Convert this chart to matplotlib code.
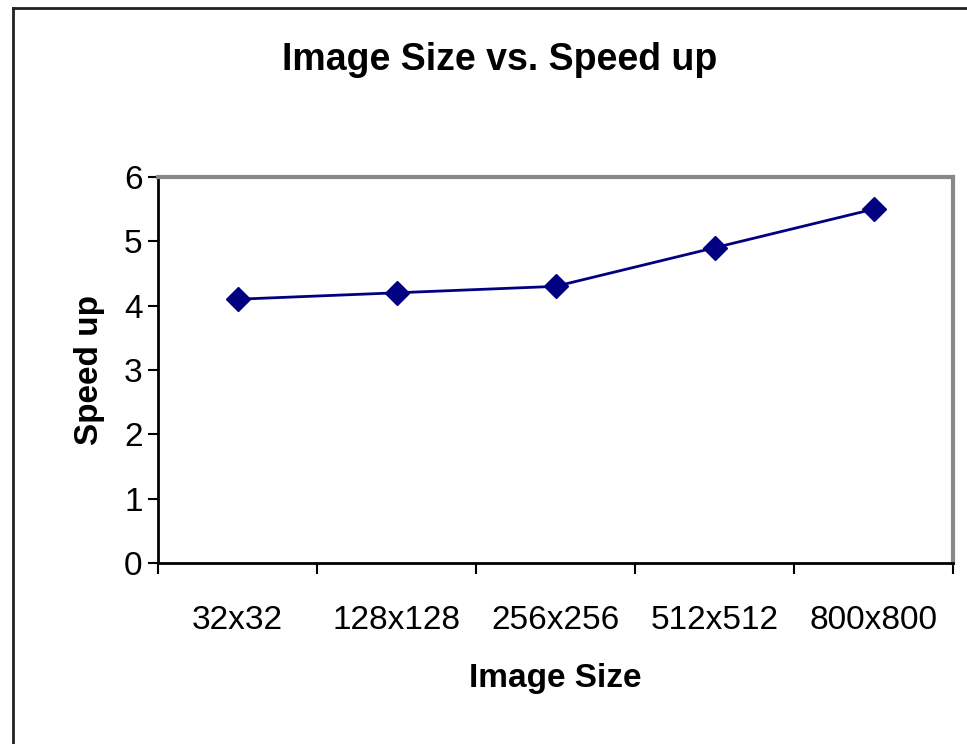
import matplotlib
matplotlib.use('Agg')
import matplotlib.pyplot as plt
import numpy as np

sizes = ['32x32', '128x128', '256x256', '512x512', '800x800']
speedup = [4.1, 4.2, 4.3, 4.9, 5.5]

plt.rcParams['font.family'] = ['Liberation Sans', 'DejaVu Sans']

fig = plt.figure(figsize=(9.67, 7.44), dpi=100)
W, H = 967, 744

# outer chart frame (left and top visible)
fig.add_artist(plt.Line2D([13/W, 13/W], [0, 1 - 8/H], color='#222222', lw=2))
fig.add_artist(plt.Line2D([13/W, 1], [1 - 8/H, 1 - 8/H], color='#222222', lw=2))

left, right, top, bottom = 158, 953, 177, 563
ax = fig.add_axes([left/W, 1 - bottom/H, (right-left)/W, (bottom-top)/H])

x = np.arange(len(sizes))
ax.plot(x, speedup, color='#000080', lw=2, marker='D', markersize=12,
        markerfacecolor='#000080', markeredgecolor='#000080')

ax.set_xlim(-0.5, len(sizes) - 0.5)
ax.set_ylim(0, 6)
ax.set_yticks(range(0, 7))
ax.set_xticks(x)
ax.set_xticklabels(sizes)
ax.set_xticks(np.arange(-0.5, len(sizes)), minor=True)
ax.tick_params(axis='x', which='major', length=0, pad=30, labelsize=24)
ax.tick_params(axis='x', which='minor', length=8, width=1.5, direction='out')
ax.tick_params(axis='y', length=7, width=1.5, direction='out', pad=4, labelsize=24)

for s in ['top', 'right']:
    ax.spines[s].set_color('#888888')
    ax.spines[s].set_linewidth(3)
for s in ['left', 'bottom']:
    ax.spines[s].set_color('black')
    ax.spines[s].set_linewidth(2)

ax.set_xlabel('Image Size', fontsize=24, fontweight='bold', labelpad=20)
ax.set_ylabel('Speed up', fontsize=24, fontweight='bold', labelpad=14)
fig.text(500/W, 1 - 60/H, 'Image Size vs. Speed up', fontsize=27,
         fontweight='bold', ha='center', va='center')

fig.savefig('out.png', dpi=100)
